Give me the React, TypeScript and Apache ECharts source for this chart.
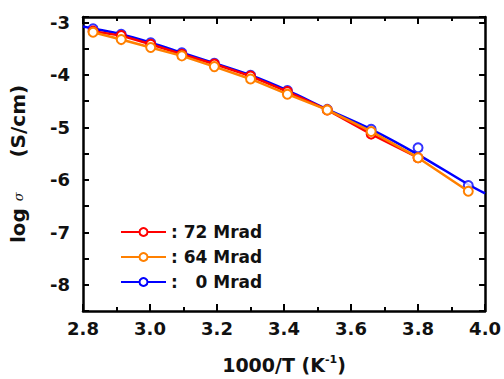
import React, { useEffect, useRef } from "react";
import * as echarts from "echarts";

const xPts = [2.83, 2.914, 3.002, 3.095, 3.192, 3.3, 3.41, 3.529, 3.66, 3.8, 3.95];
const red72 = [-3.17, -3.255, -3.42, -3.61, -3.795, -4.025, -4.32, -4.67, -5.13, -5.58];
const orange64 = [-3.19, -3.33, -3.48, -3.64, -3.845, -4.08, -4.37, -4.67, -5.08, -5.58, -6.22];
const blue0 = [-3.125, -3.23, -3.39, -3.58, -3.78, -4.01, -4.3, -4.66, -5.04, -5.39, -6.11];
const blueFitX = [2.8, 2.83, 2.914, 3.002, 3.095, 3.192, 3.3, 3.41, 3.529, 3.66, 3.8, 3.95, 4.0];
const blueFitY = [-3.08, -3.12, -3.23, -3.39, -3.58, -3.78, -4.01, -4.3, -4.66, -5.04, -5.52, -6.09, -6.26];
const seriesNames = ["72 Mrad", "64 Mrad", "0 Mrad"];
const legendTexts: Record<string, string> = { "72 Mrad": ": 72 Mrad", "64 Mrad": ": 64 Mrad", "0 Mrad": ":   0 Mrad" };

const FONT = "DejaVu Sans, sans-serif";

export default function App() {
  const ref = useRef<HTMLDivElement>(null);
  useEffect(() => {
    if (!ref.current) return;
    const chart = echarts.init(ref.current, undefined, { renderer: "svg" });
    const pair = (xs: number[], ys: number[]) => ys.map((y, i) => [xs[i], y]);
    const axisLine = { show: true, lineStyle: { color: "#000", width: 2.5 } };
    const xBase = {
      type: "value" as const,
      min: 2.8,
      max: 4.0,
      interval: 0.2,
      axisLine,
      splitLine: { show: false },
      axisTick: { inside: true, length: 7, lineStyle: { width: 2, color: "#000" } },
      minorTick: { show: true, splitNumber: 2, length: 4, lineStyle: { width: 2, color: "#000" } },
      minorSplitLine: { show: false },
    };
    const yBase = {
      type: "value" as const,
      min: -8.5,
      max: -2.9,
      interval: 0.5,
      axisLine,
      splitLine: { show: false },
      axisTick: { inside: true, length: 6, lineStyle: { width: 2, color: "#000" } },
    };
    const lineStyleFor = (c: string) => ({ color: c, width: 2.5 });
    chart.setOption({
      animation: false,
      grid: { left: 81, right: 13, top: 17, bottom: 62 },
      legend: {
        data: seriesNames,
        orient: "vertical",
        left: 120,
        top: 222,
        padding: 0,
        itemWidth: 45,
        itemHeight: 10,
        itemGap: 5,
        formatter: (n: string) => legendTexts[n],
        textStyle: { fontFamily: FONT, fontWeight: "bold", fontSize: 17, color: "#111", lineHeight: 20 },
      },
      xAxis: [
        {
          ...xBase,
          position: "bottom",
          name: "{a|1000/T (K}{s|-1}{a|)}",
          nameLocation: "middle",
          nameGap: 43,
          nameTextStyle: {
            rich: {
              a: { fontFamily: FONT, fontWeight: "bold", fontSize: 19, color: "#111" },
              s: { fontFamily: FONT, fontWeight: "bold", fontSize: 11, color: "#111", verticalAlign: "top", padding: [0, 0, 10, 0] },
            },
          },
          axisLabel: {
            margin: 8,
            fontFamily: FONT,
            fontWeight: "bold",
            fontSize: 18,
            color: "#111",
            formatter: (v: number) => v.toFixed(1),
          },
        },
        { ...xBase, position: "top", axisLabel: { show: false } },
      ],
      yAxis: [
        {
          ...yBase,
          position: "left",
          name: "{a|log }{g|σ}{a|     (S/cm)}",
          nameLocation: "middle",
          nameGap: 55,
          nameTextStyle: {
            rich: {
              a: { fontFamily: FONT, fontWeight: "bold", fontSize: 20, color: "#111" },
              g: { fontFamily: "DejaVu Serif, serif", fontStyle: "italic", fontSize: 13, color: "#111" },
            },
          },
          axisLabel: {
            margin: 13,
            fontFamily: FONT,
            fontWeight: "bold",
            fontSize: 18,
            color: "#111",
            formatter: (v: number) => (Math.abs(v - Math.round(v)) < 1e-6 ? String(Math.round(v)) : ""),
          },
        },
        { ...yBase, position: "right", axisLabel: { show: false } },
      ],
      series: [
        {
          name: "0 Mrad",
          type: "line",
          data: pair(blueFitX, blueFitY),
          smooth: 0.3,
          symbol: "emptyCircle",
          symbolSize: 9,
          showSymbol: false,
          itemStyle: { color: "#0000ff", borderWidth: 2 },
          lineStyle: lineStyleFor("#0000ff"),
          z: 2,
        },
        {
          name: "0 Mrad pts",
          type: "scatter",
          data: pair(xPts, blue0),
          symbol: "emptyCircle",
          symbolSize: 9,
          itemStyle: { color: "#0000ff", borderWidth: 2 },
          z: 2,
        },
        {
          name: "72 Mrad",
          type: "line",
          data: pair(xPts, red72),
          symbol: "emptyCircle",
          symbolSize: 9,
          itemStyle: { color: "#ff0000", borderWidth: 2 },
          lineStyle: lineStyleFor("#ff0000"),
          z: 3,
        },
        {
          name: "64 Mrad",
          type: "line",
          data: pair(xPts, orange64),
          symbol: "emptyCircle",
          symbolSize: 9,
          itemStyle: { color: "#ff8000", borderWidth: 2 },
          lineStyle: lineStyleFor("#ff8000"),
          z: 4,
        },
      ],
    });
    return () => chart.dispose();
  }, []);
  return <div ref={ref} style={{ width: 504, height: 379, position: "absolute", left: 0, top: 0 }} />;
}
